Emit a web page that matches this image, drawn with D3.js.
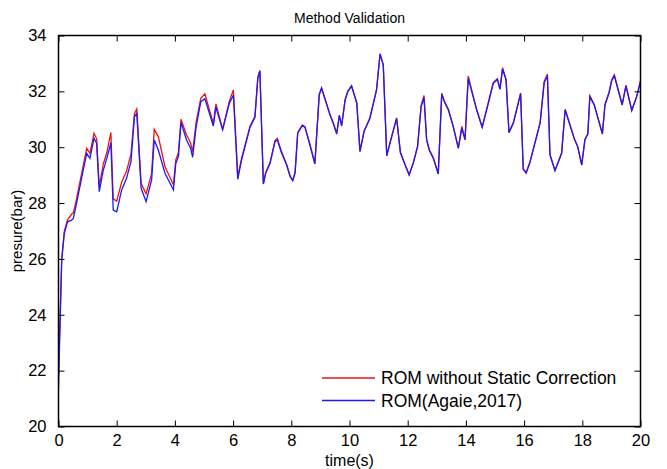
<!DOCTYPE html>
<html><head><meta charset="utf-8">
<script src="https://cdn.jsdelivr.net/npm/d3@7"></script>
<style>body{margin:0;background:#fff}svg{display:block}text{font-family:"Liberation Sans",Arial,Helvetica,sans-serif}</style>
</head><body>
<svg id="c" width="667" height="469"></svg>
<script>
const title = "Method Validation";
const xLabel = "time(s)";
const yLabel = "presure(bar)";
const xTicks = [0,2,4,6,8,10,12,14,16,18,20];
const yTicks = [20,22,24,26,28,30,32,34];
const seriesNames = ["ROM without Static Correction", "ROM(Agaie,2017)"];

const time = [0.00,0.11,0.20,0.31,0.45,0.51,0.62,0.85,0.97,1.08,1.22,1.31,1.40,1.54,1.66,1.80,1.88,2.00,2.17,2.34,2.49,2.61,2.69,2.84,3.01,3.20,3.29,3.43,3.66,3.95,4.03,4.12,4.21,4.40,4.54,4.61,4.73,4.89,5.03,5.32,5.41,5.64,5.87,6.01,6.16,6.29,6.58,6.75,6.85,6.92,7.04,7.12,7.27,7.44,7.52,7.65,7.84,7.96,8.05,8.13,8.22,8.38,8.47,8.64,8.81,8.96,9.04,9.33,9.44,9.56,9.65,9.73,9.85,9.94,10.07,10.25,10.36,10.50,10.70,10.93,11.05,11.16,11.28,11.39,11.62,11.75,11.91,12.05,12.19,12.34,12.46,12.56,12.65,12.74,12.88,13.05,13.17,13.26,13.40,13.57,13.74,13.86,13.97,14.08,14.22,14.37,14.56,14.77,14.94,15.08,15.17,15.26,15.38,15.48,15.63,15.88,15.97,16.07,16.20,16.55,16.69,16.80,16.89,17.06,17.18,17.29,17.41,17.58,17.73,17.84,17.98,18.09,18.19,18.26,18.41,18.69,18.78,18.92,19.01,19.10,19.37,19.50,19.70,19.87,20.00];

const agaie = [21.4,25.96,26.92,27.33,27.39,27.45,27.99,29.18,29.78,29.6,30.32,30.14,28.41,29.18,29.6,30.16,27.75,27.69,28.47,28.89,29.48,31.09,31.21,28.53,28.05,28.83,30.26,29.9,29.07,28.47,29.42,29.66,30.88,30.26,29.96,29.64,30.73,31.63,31.73,30.76,31.43,30.62,31.57,31.87,28.85,29.54,30.71,31.07,32.47,32.73,28.68,29.07,29.42,30.2,30.26,29.84,29.36,28.95,28.8,29.07,30.5,30.77,30.71,30.08,29.4,31.87,32.11,31.15,30.86,30.47,31.12,30.76,31.69,31.99,32.19,31.57,29.84,30.56,31.03,32.05,33.33,32.94,29.69,30.14,31.03,29.8,29.36,29.0,29.42,30.02,31.45,31.77,30.26,29.9,29.6,29.04,31.9,31.63,31.33,30.71,29.96,30.68,30.26,32.47,31.93,31.33,30.71,31.57,32.29,32.43,32.07,32.79,32.41,30.52,30.86,31.91,29.21,29.07,29.45,30.86,32.31,32.55,29.72,29.16,29.48,29.78,31.33,30.78,30.28,30.02,29.36,30.26,30.47,31.81,31.51,30.47,31.51,31.95,32.38,32.56,31.51,32.19,31.31,31.81,32.35];

const noStatic = [21.9,26.0,27.0,27.4,27.6,27.65,28.15,29.35,29.96,29.78,30.5,30.3,28.6,29.4,29.8,30.53,28.15,28.07,28.75,29.15,29.75,31.2,31.37,28.7,28.33,29.05,30.64,30.38,29.3,28.65,29.55,29.8,31.0,30.44,30.15,29.84,30.9,31.75,31.91,30.85,31.55,30.65,31.65,32.05,28.95,29.6,30.75,31.1,32.5,32.75,28.7,29.1,29.45,30.25,30.32,29.88,29.38,28.97,28.82,29.1,30.52,30.8,30.74,30.1,29.42,31.9,32.13,31.17,30.88,30.5,31.15,30.78,31.7,32.0,32.2,31.6,29.86,30.58,31.05,32.07,33.35,32.96,29.7,30.16,31.05,29.82,29.38,29.02,29.44,30.04,31.48,31.85,30.28,29.92,29.62,29.06,31.93,31.65,31.35,30.73,29.98,30.75,30.28,32.55,31.95,31.35,30.73,31.6,32.31,32.45,32.09,32.85,32.43,30.54,30.88,31.94,29.23,29.09,29.47,30.88,32.35,32.62,29.74,29.18,29.5,29.8,31.36,30.8,30.3,30.04,29.38,30.28,30.49,31.84,31.53,30.49,31.54,31.97,32.41,32.59,31.53,32.22,31.33,31.83,32.38];

const svg = d3.select("#c");
const L = 58.5, R = 640.5, T = 35.5, B = 426.5;
const x = d3.scaleLinear().domain([0,20]).range([L,R]);
const y = d3.scaleLinear().domain([20,34]).range([B,T]);

svg.append("clipPath").attr("id","clip").append("rect").attr("x",L).attr("y",T).attr("width",R-L).attr("height",B-T);
const line = vals => d3.line().x((d,i)=>x(time[i])).y(d=>y(d))(vals);
svg.append("path").attr("d",line(noStatic)).attr("fill","none").attr("stroke","#ee1111").attr("stroke-width",1.3).attr("clip-path","url(#clip)");
svg.append("path").attr("d",line(agaie)).attr("fill","none").attr("stroke","#1a1aff").attr("stroke-width",1.3).attr("clip-path","url(#clip)");

const fs = "16.5px";
const ax = svg.append("g").attr("transform",`translate(0,${B})`).call(d3.axisBottom(x).tickValues(xTicks).tickSize(-6).tickPadding(7.5).tickFormat(d3.format("d")));
const axTop = svg.append("g").attr("transform",`translate(0,${T})`).call(d3.axisTop(x).tickValues(xTicks).tickSize(-6).tickFormat(""));
const ay = svg.append("g").attr("transform",`translate(${L},0)`).call(d3.axisLeft(y).tickValues(yTicks).tickSize(-6).tickPadding(12).tickFormat(d3.format("d")));
const ayR = svg.append("g").attr("transform",`translate(${R},0)`).call(d3.axisRight(y).tickValues(yTicks).tickSize(-6).tickFormat(""));
[ax,axTop,ay,ayR].forEach(g=>{g.select(".domain").remove(); g.selectAll("line").attr("stroke","#000").attr("stroke-width",1);
  g.selectAll("text").attr("fill","#000").style("font-size",fs).style("font-family","'Liberation Sans',Arial,sans-serif");});
svg.append("rect").attr("x",L).attr("y",T).attr("width",R-L).attr("height",B-T).attr("fill","none").attr("stroke","#000").attr("stroke-width",1.5);

svg.append("text").attr("x",(L+R)/2).attr("y",23).attr("text-anchor","middle").style("font-size","14px").text(title);
svg.append("text").attr("x",(L+R)/2).attr("y",466).attr("text-anchor","middle").style("font-size","16px").text(xLabel);
svg.append("text").attr("transform",`translate(22,${(T+B)/2}) rotate(-90)`).attr("text-anchor","middle").style("font-size","15px").text(yLabel);

const colors = ["#ee1111","#1a1aff"];
seriesNames.forEach((n,i)=>{
  const yy = 378 + i*22.5;
  svg.append("line").attr("x1",322).attr("x2",375).attr("y1",yy).attr("y2",yy).attr("stroke",colors[i]).attr("stroke-width",1.3);
  svg.append("text").attr("x",381).attr("y",yy+6).style("font-size","17.5px").text(n);
});
</script>
</body></html>
